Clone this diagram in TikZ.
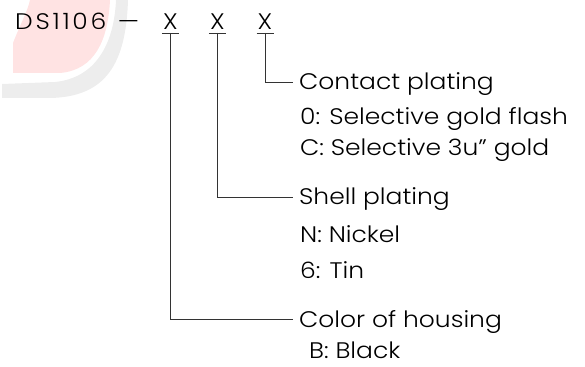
\documentclass[tikz,border=0pt]{standalone}
\usepackage{fontspec}
\setmainfont{Poppins Light}[FakeStretch=1.11]
\usepackage{tikz}

\tikzset{
  code/.style={inner xsep=1pt, inner ysep=3pt, text height=15pt, text depth=0pt, anchor=south},
  lbl/.style={inner xsep=6pt, inner ysep=0pt, text height=15pt, text depth=0pt, anchor=west},
  lead/.style={line width=0.8pt, black!80}
}

\begin{document}
\begin{tikzpicture}[x=1pt,y=-1pt,font=\fontsize{22.5}{26}\selectfont]
    \useasboundingbox (0,0) rectangle (585,366);
    % faint logo behind the part number
    \fill[black!7] (116,0) -- (128,0) .. controls (126,65) and (105,97) .. (50,98) -- (2,98) -- (2,84) -- (55,82) .. controls (95,78) and (114,45) .. cycle;
    \fill[red!11] (30,0) -- (110,0) .. controls (108,40) and (95,70) .. (60,73) -- (13,73) -- (13,43) .. controls (20,25) and (28,10) .. cycle;
    % part number
    \node[anchor=base west, inner sep=0pt] (pn) at (15,30) {\addfontfeature{LetterSpace=12}DS1106};
    \node[anchor=base, inner sep=0pt] (dash) at (128.5,30) {---};
    \node[code] (xa) at (170.5,33) {X};
    \node[code] (xb) at (217.5,33) {X};
    \node[code] (xc) at (265,33) {X};
    \foreach \x in {xa,xb,xc}
      \draw[lead] (\x.south west) -- (\x.south east);
    % labels
    \node[lbl] (contact) at (293,82.5) {Contact plating};
    \node[lbl] (opt0) at (294,117.5) {0: Selective gold flash};
    \node[lbl] (optC) at (294,147.5) {C: Selective 3u" gold};
    \node[lbl] (shell) at (293,197) {Shell plating};
    \node[lbl] (optN) at (294,234.5) {N: Nickel};
    \node[lbl] (opt6) at (294,270.5) {6: Tin};
    \node[lbl] (color) at (293,319.5) {Color of housing};
    \node[lbl] (optB) at (303,350.5) {B: Black};
    % leaders
    \draw[lead] (xc.south) |- (contact.west);
    \draw[lead] (xb.south) |- (shell.west);
    \draw[lead] (xa.south) |- (color.west);
\end{tikzpicture}
\end{document}
